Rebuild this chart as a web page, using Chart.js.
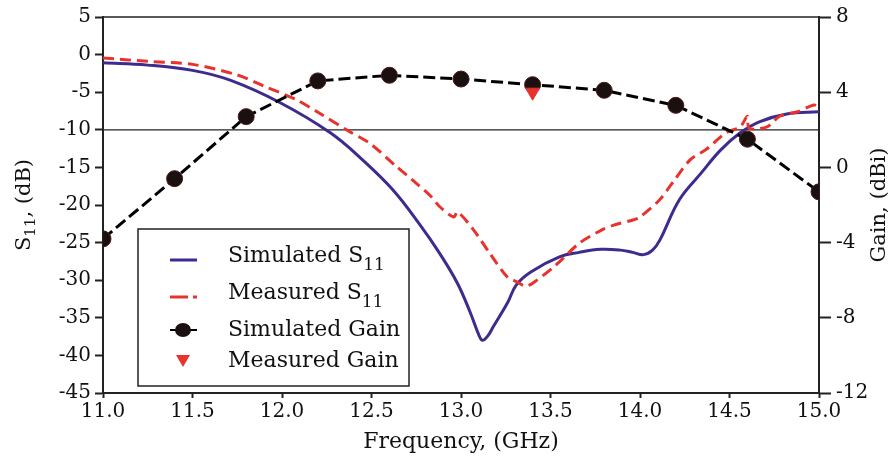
<!DOCTYPE html>
<html>
<head>
<meta charset="utf-8">
<script src="https://cdn.jsdelivr.net/npm/chart.js@4/dist/chart.umd.min.js"></script>
<style>
  html, body { margin: 0; padding: 0; background: #fff; }
  #wrap { width: 894px; height: 456px; }
</style>
</head>
<body>
<div id="wrap"><canvas id="grafico" width="894" height="456"></canvas></div>
<script>
// datos
const frecSimS11 = [11.0, 11.25, 11.5, 11.71, 11.99, 12.27, 12.45, 12.62, 12.77, 12.88, 12.98, 13.05, 13.1, 13.12, 13.15, 13.18, 13.26, 13.31, 13.39, 13.55, 13.66, 13.78, 13.89, 13.96, 14.02, 14.07, 14.11, 14.22, 14.34, 14.45, 14.56, 14.67, 14.82, 15.0];
const simS11 = [-1.1, -1.4, -2.1, -3.4, -6.4, -10.4, -14.0, -18.0, -22.6, -26.4, -30.4, -34.2, -37.3, -38.0, -37.4, -36.2, -33.0, -30.6, -28.9, -26.9, -26.3, -25.9, -26.0, -26.3, -26.6, -26.0, -24.7, -19.3, -15.8, -12.7, -10.4, -8.9, -7.9, -7.6];

const frecMedS11 = [11.0, 11.25, 11.5, 11.75, 11.9, 12.08, 12.21, 12.36, 12.49, 12.64, 12.73, 12.83, 12.88, 12.96, 12.98, 13.07, 13.16, 13.26, 13.31, 13.36, 13.4, 13.52, 13.66, 13.78, 13.85, 13.96, 14.0, 14.11, 14.18, 14.28, 14.37, 14.48, 14.56, 14.6, 14.61, 14.71, 14.78, 14.88, 14.97, 15.0];
const medS11 = [-0.45, -0.9, -1.3, -2.7, -4.2, -6.0, -7.8, -10.0, -11.8, -14.9, -16.7, -18.8, -20.2, -21.6, -20.9, -23.3, -26.4, -29.6, -30.2, -30.8, -30.4, -28.2, -25.1, -23.4, -22.7, -22.0, -21.6, -19.3, -17.1, -14.0, -12.6, -10.4, -9.6, -8.2, -9.8, -9.6, -8.2, -7.6, -6.7, -6.9];

const frecGanancia = [11.0, 11.4, 11.8, 12.2, 12.6, 13.0, 13.4, 13.8, 14.2, 14.6, 15.0];
const simGanancia = [-3.8, -0.6, 2.7, 4.6, 4.9, 4.7, 4.4, 4.1, 3.3, 1.5, -1.3];

const frecMedGanancia = [13.4];
const medGanancia = [4.0];

const nivelReferencia = -10;
const rangoFrec = [11.0, 15.0];

const fuente = 'DejaVu Serif';
const azul = '#3d2b8e';
const rojo = '#e8322c';
const negro = '#1a1010';

function aPuntos(xs, ys) {
  return xs.map((x, i) => ({ x: x, y: ys[i] }));
}

// titulos, marco superior y leyenda dibujados a mano
const extras = {
  id: 'extras',
  afterDraw(chart) {
    const ctx = chart.ctx;
    const area = chart.chartArea;
    ctx.save();

    ctx.strokeStyle = '#222';
    ctx.lineWidth = 1.5;
    ctx.beginPath();
    ctx.moveTo(area.left, area.top);
    ctx.lineTo(area.right, area.top);
    ctx.stroke();

    ctx.fillStyle = '#111';
    ctx.textBaseline = 'middle';

    // eje x
    ctx.font = '22px "' + fuente + '"';
    ctx.textAlign = 'center';
    ctx.fillText('Frequency, (GHz)', (area.left + area.right) / 2, 442);

    // eje izquierdo S11
    const yMid = (area.top + area.bottom) / 2;
    ctx.save();
    ctx.translate(25, yMid);
    ctx.rotate(-Math.PI / 2);
    ctx.textAlign = 'left';
    ctx.font = '21px "' + fuente + '"';
    const wS = ctx.measureText('S').width;
    const wResto = ctx.measureText(', (dB)').width;
    ctx.font = '15px "' + fuente + '"';
    const wSub = ctx.measureText('11').width;
    let x0 = -(wS + wSub + wResto) / 2;
    ctx.font = '21px "' + fuente + '"';
    ctx.fillText('S', x0, 0);
    ctx.font = '15px "' + fuente + '"';
    ctx.fillText('11', x0 + wS, 6);
    ctx.font = '21px "' + fuente + '"';
    ctx.fillText(', (dB)', x0 + wS + wSub, 0);
    ctx.restore();

    // eje derecho
    ctx.save();
    ctx.translate(880, yMid);
    ctx.rotate(-Math.PI / 2);
    ctx.textAlign = 'center';
    ctx.font = '21px "' + fuente + '"';
    ctx.fillText('Gain, (dBi)', 0, 0);
    ctx.restore();

    // leyenda
    const lx = 138, ly = 229, lw = 271, lh = 157;
    ctx.fillStyle = '#fff';
    ctx.fillRect(lx, ly, lw, lh);
    ctx.strokeStyle = '#222';
    ctx.lineWidth = 1.5;
    ctx.strokeRect(lx, ly, lw, lh);

    const filas = [
      { y: 256, texto: 'Simulated S', sub: '11' },
      { y: 293, texto: 'Measured S', sub: '11' },
      { y: 330, texto: 'Simulated Gain', sub: '' },
      { y: 361, texto: 'Measured Gain', sub: '' }
    ];
    const tx = 228;
    filas.forEach(f => {
      ctx.fillStyle = '#111';
      ctx.textAlign = 'left';
      ctx.font = '22px "' + fuente + '"';
      ctx.fillText(f.texto, tx, f.y);
      if (f.sub) {
        const w = ctx.measureText(f.texto).width;
        ctx.font = '17px "' + fuente + '"';
        ctx.fillText(f.sub, tx + w, f.y + 10);
      }
    });

    // muestras
    ctx.lineCap = 'butt';
    ctx.strokeStyle = azul;
    ctx.lineWidth = 3;
    ctx.beginPath();
    ctx.moveTo(170, 260); ctx.lineTo(197, 260);
    ctx.stroke();

    ctx.strokeStyle = rojo;
    ctx.beginPath();
    ctx.moveTo(170, 297); ctx.lineTo(188, 297);
    ctx.moveTo(193, 297); ctx.lineTo(197, 297);
    ctx.stroke();

    ctx.strokeStyle = '#000';
    ctx.lineWidth = 2;
    ctx.beginPath();
    ctx.moveTo(170, 330); ctx.lineTo(176, 330);
    ctx.moveTo(190, 330); ctx.lineTo(197, 330);
    ctx.stroke();
    ctx.fillStyle = negro;
    ctx.beginPath();
    ctx.ellipse(183, 330, 8, 7, 0, 0, Math.PI * 2);
    ctx.fill();

    ctx.fillStyle = rojo;
    ctx.beginPath();
    ctx.moveTo(176, 355); ctx.lineTo(190, 355); ctx.lineTo(183, 367);
    ctx.closePath();
    ctx.fill();

    ctx.restore();
  }
};

const ejeComun = {
  grid: { display: true, drawOnChartArea: false, drawTicks: true, color: '#222', tickWidth: 2 },
  border: { display: true, color: '#222', width: 2 },
  ticks: { color: '#111', font: { family: fuente, size: 20 } }
};

new Chart(document.getElementById('grafico'), {
  type: 'line',
  data: {
    datasets: [
      {
        data: aPuntos(frecMedGanancia, medGanancia),
        showLine: false,
        pointStyle: 'triangle',
        rotation: 180,
        pointRadius: 8,
        pointBackgroundColor: rojo,
        pointBorderColor: rojo,
        yAxisID: 'y2',
        order: 0
      },
      {
        data: aPuntos(frecGanancia, simGanancia),
        borderColor: '#000',
        borderWidth: 3,
        borderDash: [12, 5],
        tension: 0,
        pointRadius: 8,
        pointBackgroundColor: negro,
        pointBorderColor: '#4a1a1a',
        pointBorderWidth: 1,
        yAxisID: 'y2',
        order: 1
      },
      {
        data: aPuntos(frecMedS11, medS11),
        borderColor: rojo,
        borderWidth: 3,
        borderDash: [11, 6],
        tension: 0.3,
        pointRadius: 0,
        yAxisID: 'y',
        order: 2
      },
      {
        data: aPuntos(frecSimS11, simS11),
        borderColor: azul,
        borderWidth: 3,
        tension: 0.4,
        pointRadius: 0,
        yAxisID: 'y',
        order: 3
      },
      {
        data: aPuntos(rangoFrec, [nivelReferencia, nivelReferencia]),
        borderColor: '#222',
        borderWidth: 1.3,
        pointRadius: 0,
        yAxisID: 'y',
        order: 5
      }
    ]
  },
  options: {
    responsive: false,
    animation: false,
    events: [],
    layout: { padding: { top: 17, left: 0, right: 0, bottom: 0 } },
    plugins: { legend: { display: false }, tooltip: { enabled: false } },
    scales: {
      x: {
        type: 'linear',
        min: 11,
        max: 15,
        grid: { ...ejeComun.grid, tickLength: 5 },
        border: ejeComun.border,
        ticks: { ...ejeComun.ticks, stepSize: 0.5, padding: 2, maxRotation: 0, callback: v => v.toFixed(1) },
        afterFit: s => { s.height = 63; }
      },
      y: {
        position: 'left',
        min: -45,
        max: 5,
        grid: { ...ejeComun.grid, tickLength: 8 },
        border: ejeComun.border,
        ticks: { ...ejeComun.ticks, stepSize: 5, padding: 4 },
        afterFit: s => { s.width = 103; }
      },
      y2: {
        position: 'right',
        min: -12,
        max: 8,
        grid: { ...ejeComun.grid, tickLength: 12 },
        border: ejeComun.border,
        ticks: { ...ejeComun.ticks, stepSize: 4, padding: 5 },
        afterFit: s => { s.width = 75; }
      }
    }
  },
  plugins: [extras]
});
</script>
</body>
</html>
